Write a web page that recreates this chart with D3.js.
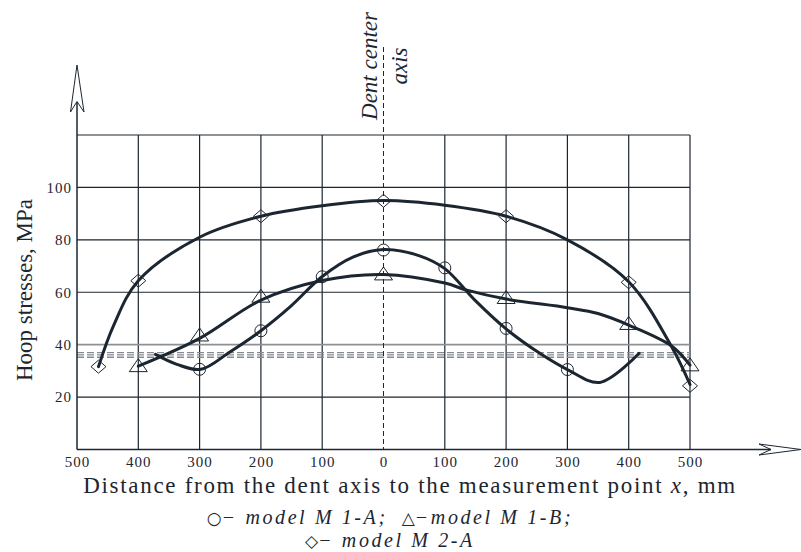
<!DOCTYPE html>
<html>
<head>
<meta charset="utf-8">
<script src="https://cdn.jsdelivr.net/npm/d3@7"></script>
<style>
  body { margin: 0; background: #fff; }
  text { font-family: "Liberation Serif", "Times New Roman", serif; fill: #1c2630; }
</style>
</head>
<body>
<script>
// tick values
const xTicks = [-500, -400, -300, -200, -100, 0, 100, 200, 300, 400, 500];
const yTicks = [20, 40, 60, 80, 100];
const yGrid = [20, 40, 60, 80, 100, 120];
// dashed reference levels
const refLevels = [35.2, 36.1, 37.0];

// measured points (markers)
const m1aX = [-300, -200, -100, 0, 100, 200, 300];
const m1aY = [30.6, 45.3, 65.9, 76.1, 69.3, 46.2, 30.5];
const m1bX = [-400, -300, -200, 0, 200, 400, 500];
const m1bY = [32.0, 43.7, 58.5, 67.0, 58.0, 48.1, 32.3];
const m2aX = [-465, -400, -200, 0, 200, 400, 500];
const m2aY = [31.6, 64.4, 89.0, 94.9, 89.0, 63.8, 24.3];

// fitted curves
const m1aCurveX = [-372, -337, -298, -250, -200, -152, -100, -49, 0, 60, 100, 149, 200, 255, 300, 353, 417];
const m1aCurveY = [36.3, 32.5, 30.6, 37.3, 45.3, 54.5, 66.0, 73.5, 76.3, 73.8, 69.0, 57.0, 46.0, 36.7, 30.5, 25.6, 36.7];
const m1bCurveX = [-400, -300, -200, -100, 0, 100, 136, 200, 300, 350, 400, 470, 500];
const m1bCurveY = [31.8, 42.4, 57.0, 64.5, 66.8, 63.5, 60.8, 57.4, 54.1, 51.9, 47.5, 39.5, 32.2];
const m2aCurveX = [-465, -440, -400, -300, -200, -100, 0, 100, 200, 300, 400, 470, 500];
const m2aCurveY = [31.6, 47.5, 64.4, 81.0, 89.0, 93.0, 95.0, 93.2, 89.0, 80.0, 64.0, 39.2, 24.8];

const zip = (xs, ys) => xs.map((v, i) => [v, ys[i]]);

const svg = d3.select('body').append('svg')
  .attr('width', 801)
  .attr('height', 552);

const x = d3.scaleLinear().domain([-500, 500]).range([77, 690]);
const y = d3.scaleLinear().domain([0, 120]).range([449.5, 135]);
const ink = '#1c2630';

// vertical grid (center one is the dashed axis)
svg.append('g').selectAll('line')
  .data(xTicks.filter(d => d !== 0 && d !== -500))
  .join('line')
  .attr('x1', d => x(d)).attr('x2', d => x(d))
  .attr('y1', y(0)).attr('y2', y(120))
  .attr('stroke', ink).attr('stroke-width', 1.2);

// horizontal grid
svg.append('g').selectAll('line')
  .data(yGrid)
  .join('line')
  .attr('x1', x(-500)).attr('x2', x(500))
  .attr('y1', d => y(d)).attr('y2', d => y(d))
  .attr('stroke', d => d === 40 ? '#8c9196' : ink)
  .attr('stroke-width', d => d === 40 ? 1.8 : 1.2);

// dashed reference levels
svg.append('g').selectAll('line')
  .data(refLevels)
  .join('line')
  .attr('x1', x(-500)).attr('x2', x(500))
  .attr('y1', d => y(d)).attr('y2', d => y(d))
  .attr('stroke', '#858a90').attr('stroke-width', 1.3)
  .attr('stroke-dasharray', '7,3');

// dent center axis
svg.append('line')
  .attr('x1', x(0)).attr('x2', x(0))
  .attr('y1', 47).attr('y2', y(0))
  .attr('stroke', ink).attr('stroke-width', 1)
  .attr('stroke-dasharray', '5,3');

// y axis with arrow
svg.append('line')
  .attr('x1', x(-500)).attr('x2', x(-500))
  .attr('y1', y(0)).attr('y2', 102)
  .attr('stroke', ink).attr('stroke-width', 1.5);
svg.append('path')
  .attr('d', `M${x(-500)},65 L${x(-500) - 6.5},112 L${x(-500)},101.5 L${x(-500) + 7},112 Z`)
  .attr('fill', 'none').attr('stroke', ink).attr('stroke-width', 1);

// x axis with arrow
svg.append('line')
  .attr('x1', x(-500)).attr('x2', 771)
  .attr('y1', y(0)).attr('y2', y(0))
  .attr('stroke', ink).attr('stroke-width', 1.5);
svg.append('path')
  .attr('d', `M801,${y(0)} L759,${y(0) - 5.5} L771,${y(0)} L759,${y(0) + 5.5} Z`)
  .attr('fill', 'none').attr('stroke', ink).attr('stroke-width', 1);

// tick labels
const xAxis = d3.axisBottom(x).tickValues(xTicks).tickSize(0).tickPadding(7)
  .tickFormat(d => Math.abs(d));
svg.append('g').attr('transform', `translate(0,${y(0)})`).call(xAxis)
  .call(g => g.select('.domain').remove())
  .selectAll('text')
  .attr('font-family', '"Liberation Serif", serif')
  .attr('font-size', 15).attr('letter-spacing', 1).attr('fill', ink);

const yAxis = d3.axisLeft(y).tickValues(yTicks).tickSize(0).tickPadding(5);
svg.append('g').attr('transform', `translate(${x(-500)},0)`).call(yAxis)
  .call(g => g.select('.domain').remove())
  .selectAll('text')
  .attr('font-family', '"Liberation Serif", serif')
  .attr('font-size', 15).attr('letter-spacing', 1).attr('fill', ink);

// curves
const line = d3.line()
  .x(d => x(d[0]))
  .y(d => y(d[1]))
  .curve(d3.curveCatmullRom.alpha(0.5));

[zip(m2aCurveX, m2aCurveY), zip(m1bCurveX, m1bCurveY), zip(m1aCurveX, m1aCurveY)].forEach(pts => {
  svg.append('path')
    .attr('d', line(pts))
    .attr('fill', 'none')
    .attr('stroke', ink)
    .attr('stroke-width', 3)
    .attr('stroke-linecap', 'round');
});

// markers
svg.append('g').selectAll('circle')
  .data(zip(m1aX, m1aY))
  .join('circle')
  .attr('cx', d => x(d[0])).attr('cy', d => y(d[1])).attr('r', 6)
  .attr('fill', 'none').attr('stroke', ink).attr('stroke-width', 1);

svg.append('g').selectAll('path')
  .data(zip(m1bX, m1bY))
  .join('path')
  .attr('d', d => {
    const cx = x(d[0]), cy = y(d[1]);
    return `M${cx},${cy - 7} L${cx + 9},${cy + 6} L${cx - 9},${cy + 6} Z`;
  })
  .attr('fill', 'none').attr('stroke', ink).attr('stroke-width', 1);

svg.append('g').selectAll('path')
  .data(zip(m2aX, m2aY))
  .join('path')
  .attr('d', d => {
    const cx = x(d[0]), cy = y(d[1]);
    return `M${cx},${cy - 6.5} L${cx + 7.5},${cy} L${cx},${cy + 6.5} L${cx - 7.5},${cy} Z`;
  })
  .attr('fill', 'none').attr('stroke', ink).attr('stroke-width', 1);

// texts
svg.append('text')
  .attr('transform', 'translate(377,66) rotate(-90)')
  .attr('text-anchor', 'middle')
  .attr('font-size', 23).attr('font-style', 'italic')
  .text('Dent center');
svg.append('text')
  .attr('transform', 'translate(407,66) rotate(-90)')
  .attr('text-anchor', 'middle')
  .attr('font-size', 23).attr('font-style', 'italic')
  .text('axis');

svg.append('text')
  .attr('transform', 'translate(32,290) rotate(-90)')
  .attr('text-anchor', 'middle')
  .attr('font-size', 23)
  .text('Hoop stresses, MPa');

const xl = svg.append('text')
  .attr('x', 410).attr('y', 493)
  .attr('text-anchor', 'middle')
  .attr('font-size', 23).attr('letter-spacing', 1.7);
xl.append('tspan').text('Distance from the dent axis to the measurement point ');
xl.append('tspan').attr('font-style', 'italic').text('x');
xl.append('tspan').text(', mm');

function legendLine(yPos, parts) {
  const t = svg.append('text')
    .attr('x', 390).attr('y', yPos)
    .attr('text-anchor', 'middle')
    .attr('font-size', 20).attr('font-style', 'italic').attr('letter-spacing', 2.6);
  parts.forEach(p => {
    const s = t.append('tspan').text(p[0]);
    if (p[1]) s.attr('font-style', 'normal').attr('font-size', 17).attr('letter-spacing', 0)
      .attr('font-family', '"DejaVu Sans", sans-serif');
    if (p[2]) s.attr('dx', p[2]);
  });
}
legendLine(524, [['○', true], ['− model M 1-A;'], ['△', true, 14], ['−model M 1-B;']]);
legendLine(547, [['◇', true], ['− model M 2-A']]);
</script>
</body>
</html>
